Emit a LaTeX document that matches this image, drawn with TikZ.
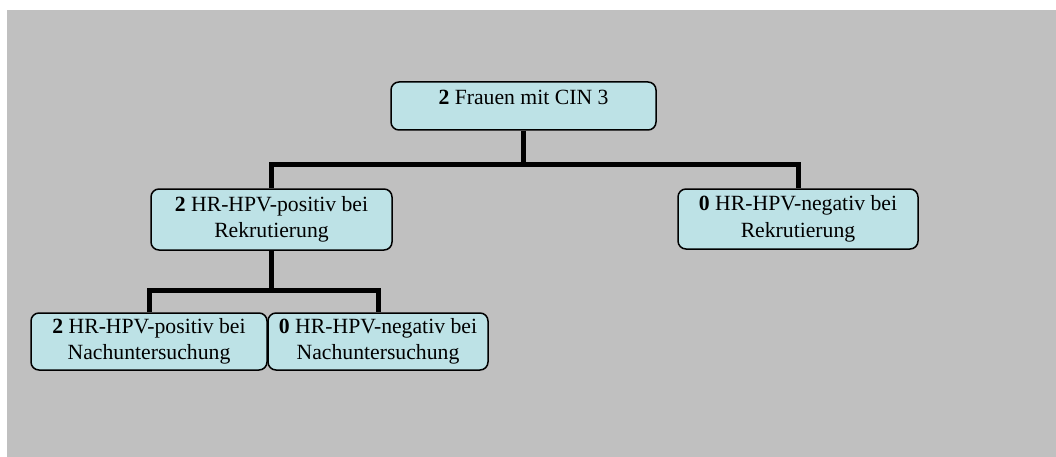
\documentclass[tikz,border=0pt]{standalone}
\usepackage{fontspec}
\setmainfont{Liberation Serif}
\usetikzlibrary{positioning}
\definecolor{boxfill}{RGB}{189,226,230}
\definecolor{panel}{RGB}{192,192,192}
\tikzset{
  box/.style={draw, line width=1.5pt, rounded corners=8pt, fill=boxfill, align=center,
    inner sep=0pt, font=\fontsize{21.7}{26.5}\selectfont},
  link/.style={line width=5pt}
}

\begin{document}
\begin{tikzpicture}[x=1pt, y=-1pt]
  \useasboundingbox (0,0) rectangle (1056,457);
  \fill[panel] (7,10) rectangle (1056,457);

  \node[box, minimum width=265pt, minimum height=48pt, text height=15pt, text depth=17pt] (cin) at (523.5,106) {\textbf{2} Frauen mit CIN 3};
  \node[box, minimum width=241pt, minimum height=61pt] (posR) at (271.5,219.5) {\textbf{2} HR-HPV-positiv bei\\Rekrutierung};
  \node[box, minimum width=240pt, minimum height=60pt] (negR) at (798,219) {\textbf{0} HR-HPV-negativ bei\\Rekrutierung};
  \node[box, minimum width=236pt, minimum height=57pt] (posN) at (149,341.5) {\textbf{2} HR-HPV-positiv bei\\Nachuntersuchung};
  \node[box, minimum width=220pt, minimum height=57pt] (negN) at (378,341.5) {\textbf{0} HR-HPV-negativ bei\\Nachuntersuchung};

  \coordinate (split1) at (523.5,165);
  \coordinate (split2) at (271.5,290);

  \draw[link] (cin.south) -- (split1);
  \draw[link] (posR.north) |- (split1) -| (negR.north);
  \draw[link] (posR.south) -- (split2);
  \draw[link] (posN.north) |- (split2) -| (negN.north);
\end{tikzpicture}
\end{document}
